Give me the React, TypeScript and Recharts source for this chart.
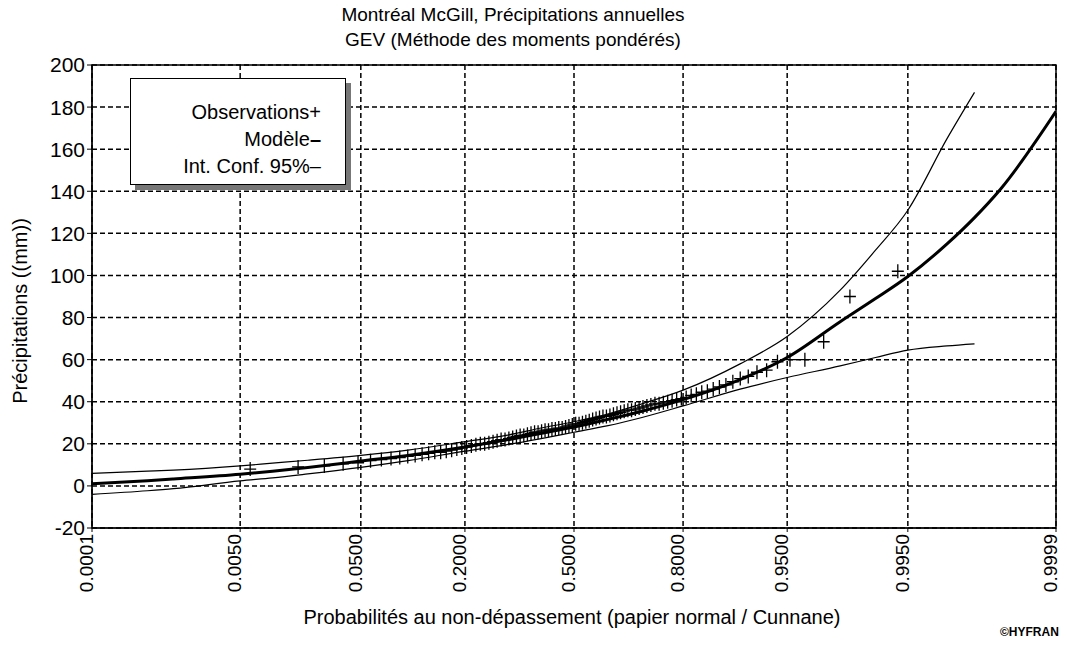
import React from "react";
import {
  ComposedChart,
  Line,
  Scatter,
  XAxis,
  YAxis,
  CartesianGrid,
  ReferenceArea,
} from "recharts";

// x axis: non-exceedance probability on normal paper
const tickProbs = [0.0001, 0.005, 0.05, 0.2, 0.5, 0.8, 0.95, 0.995, 0.9999];
const tickLabels = ["0.0001", "0.0050", "0.0500", "0.2000", "0.5000", "0.8000", "0.9500", "0.9950", "0.9999"];
const yTicks = [-20, 0, 20, 40, 60, 80, 100, 120, 140, 160, 180, 200];

// model (GEV) and 95% confidence band
const curveProbs = [0.0001, 0.0005, 0.001, 0.005, 0.01, 0.02, 0.05, 0.1, 0.2, 0.3, 0.4, 0.5, 0.6, 0.7, 0.8, 0.9, 0.95, 0.98, 0.99, 0.995, 0.998, 0.999, 0.9995, 0.9999];
const modelValues = [1, 2.5, 3.3, 5.5, 7, 8.8, 11.8, 14.5, 18.5, 21.8, 25, 28, 31.5, 35.5, 41, 50.5, 61, 78, 89, 99.5, 115, 127.5, 141, 178];
const upperValues = [6, 7, 7.5, 9.5, 10.8, 12.2, 14.5, 17, 21, 24, 27.5, 30.5, 34, 39, 45.5, 58, 71, 93, 112, 131, 165, 187];
const lowerValues = [-4, -2.3, -1.3, 2.4, 3.8, 5.7, 8.8, 12, 16.5, 19.5, 22.5, 25.5, 28.5, 32.5, 38, 46, 51.5, 57, 61, 64.5, 66.5, 67.5];

// sorted annual observations (mm), plotted with Cunnane positions
const observations = [
  8, 9, 9.5, 10.5, 11, 12, 12.5, 13, 13.5, 14,
  14.5, 15, 15.5, 16, 16, 16.5, 17, 17.5, 18, 18.5,
  19, 19.5, 20, 20, 20.5, 21, 21.5, 22, 22, 22.5,
  23, 23.5, 24, 24, 24.5, 25, 25.5, 25.5, 26, 26.5,
  26.5, 27, 27, 27.5, 27.5, 28, 28.5, 29, 29.5, 29.5,
  30, 30.5, 31, 31.5, 32, 32.5, 33, 33, 33.5, 34,
  34.5, 35, 35.5, 36, 36, 36.5, 37, 37.5, 38, 38.5,
  39, 39, 39.5, 40, 40.5, 41, 41.5, 42, 43, 43.5,
  44.5, 45, 46, 47, 48, 49.5, 51, 52, 54, 55,
  59, 60, 60, 68.5, 90, 102,
];

function invNorm(p: number): number {
  const a = [-39.69683028665376, 220.9460984245205, -275.9285104469687, 138.357751867269, -30.66479806614716, 2.506628277459239];
  const b = [-54.47609879822406, 161.5858368580409, -155.6989798598866, 66.80131188771972, -13.28068155288572];
  const c = [-0.007784894002430293, -0.3223964580411365, -2.400758277161838, -2.549732539343734, 4.374664141464968, 2.938163982698783];
  const d = [0.007784695709041462, 0.3224671290700398, 2.445134137142996, 3.754408661907416];
  const plow = 0.02425;
  if (p < plow) {
    const q = Math.sqrt(-2 * Math.log(p));
    return (((((c[0] * q + c[1]) * q + c[2]) * q + c[3]) * q + c[4]) * q + c[5]) /
      ((((d[0] * q + d[1]) * q + d[2]) * q + d[3]) * q + 1);
  }
  if (p > 1 - plow) {
    const q = Math.sqrt(-2 * Math.log(1 - p));
    return -(((((c[0] * q + c[1]) * q + c[2]) * q + c[3]) * q + c[4]) * q + c[5]) /
      ((((d[0] * q + d[1]) * q + d[2]) * q + d[3]) * q + 1);
  }
  const q = p - 0.5;
  const r = q * q;
  return (((((a[0] * r + a[1]) * r + a[2]) * r + a[3]) * r + a[4]) * r + a[5]) * q /
    (((((b[0] * r + b[1]) * r + b[2]) * r + b[3]) * r + b[4]) * r + 1);
}

const xTicks = tickProbs.map(invNorm);
const zMin = xTicks[0];
const zMax = xTicks[xTicks.length - 1];

const modelData = curveProbs.map((p, i) => ({ z: invNorm(p), y: modelValues[i] }));
const upperData = upperValues.map((v, i) => ({ z: invNorm(curveProbs[i]), y: v }));
const lowerData = lowerValues.map((v, i) => ({ z: invNorm(curveProbs[i]), y: v }));
const n = observations.length;
const obsData = observations.map((v, i) => ({ z: invNorm((i + 1 - 0.4) / (n + 0.2)), y: v }));

const FONT = "'Liberation Sans', Arial, sans-serif";

const Cross = (props: any) => {
  const { cx, cy } = props;
  if (cx == null || cy == null) return null;
  return (
    <path d={`M${cx - 6},${cy} H${cx + 6} M${cx},${cy - 7} V${cy + 7}`} stroke="#000" strokeWidth={1.3} fill="none" />
  );
};

const XTick = (props: any) => {
  const { x, y, payload } = props;
  const idx = xTicks.findIndex((t) => Math.abs(t - payload.value) < 1e-6);
  return (
    <text x={x} y={y} transform={`rotate(-90, ${x}, ${y})`} textAnchor="end" dy={1}
      fontSize={19} fontFamily={FONT} fill="#000">
      {idx >= 0 ? tickLabels[idx] : ""}
    </text>
  );
};

const App = () => {
  return (
    <div style={{ position: "relative", width: 1067, height: 647, marginLeft: -8, marginTop: -8, background: "#fff", fontFamily: FONT, color: "#000" }}>
      <ComposedChart width={1067} height={647} margin={{ top: 65, right: 11, bottom: 59, left: 30 }} style={{ overflow: "visible" }}>
        <CartesianGrid stroke="#000" strokeDasharray="5 3" strokeWidth={1.5} />
        <XAxis type="number" dataKey="z" domain={[zMin, zMax]} ticks={xTicks} allowDataOverflow
          height={60} tick={<XTick />} tickSize={4} stroke="#000" interval={0} />
        <YAxis type="number" domain={[-20, 200]} ticks={yTicks} allowDataOverflow width={62}
          tick={{ fontSize: 21, fill: "#000", fontFamily: FONT }} tickSize={5} stroke="#000" interval={0} />
        <ReferenceArea x1={zMin} x2={zMax} y1={-20} y2={200} fill="none" stroke="#000" strokeWidth={1.5} />
        <Line data={lowerData} dataKey="y" type="monotone" stroke="#000" strokeWidth={1.2} dot={false} isAnimationActive={false} />
        <Line data={upperData} dataKey="y" type="monotone" stroke="#000" strokeWidth={1.2} dot={false} isAnimationActive={false} />
        <Line data={modelData} dataKey="y" type="monotone" stroke="#000" strokeWidth={3} dot={false} isAnimationActive={false} />
        <Scatter data={obsData} dataKey="y" shape={<Cross />} isAnimationActive={false} />
      </ComposedChart>

      <div style={{ position: "absolute", left: 263, top: 2, width: 500, textAlign: "center", fontSize: 19, lineHeight: "25px" }}>
        <div>Montréal McGill, Précipitations annuelles</div>
        <div>GEV (Méthode des moments pondérés)</div>
      </div>

      <div style={{ position: "absolute", left: 130, top: 78, width: 216, height: 107, border: "1.5px solid #000", background: "#fff",
        boxShadow: "5px 5px 0 #777", fontSize: 20, lineHeight: "27px", textAlign: "right", paddingTop: 20, boxSizing: "border-box", paddingRight: 24 }}>
        <div>Observations+</div>
        <div>Modèle<span style={{ fontWeight: "bold" }}>–</span></div>
        <div>Int. Conf. 95%–</div>
      </div>

      <div style={{ position: "absolute", left: 20, top: 311, transform: "translate(-50%, -50%) rotate(-90deg)", whiteSpace: "nowrap", fontSize: 20 }}>
        Précipitations ((mm))
      </div>

      <div style={{ position: "absolute", left: 272, top: 606, width: 600, textAlign: "center", fontSize: 20, whiteSpace: "nowrap" }}>
        Probabilités au non-dépassement (papier normal / Cunnane)
      </div>

      <div style={{ position: "absolute", left: 1000, top: 625, fontSize: 12, fontWeight: "bold" }}>©HYFRAN</div>
    </div>
  );
};

export default App;
